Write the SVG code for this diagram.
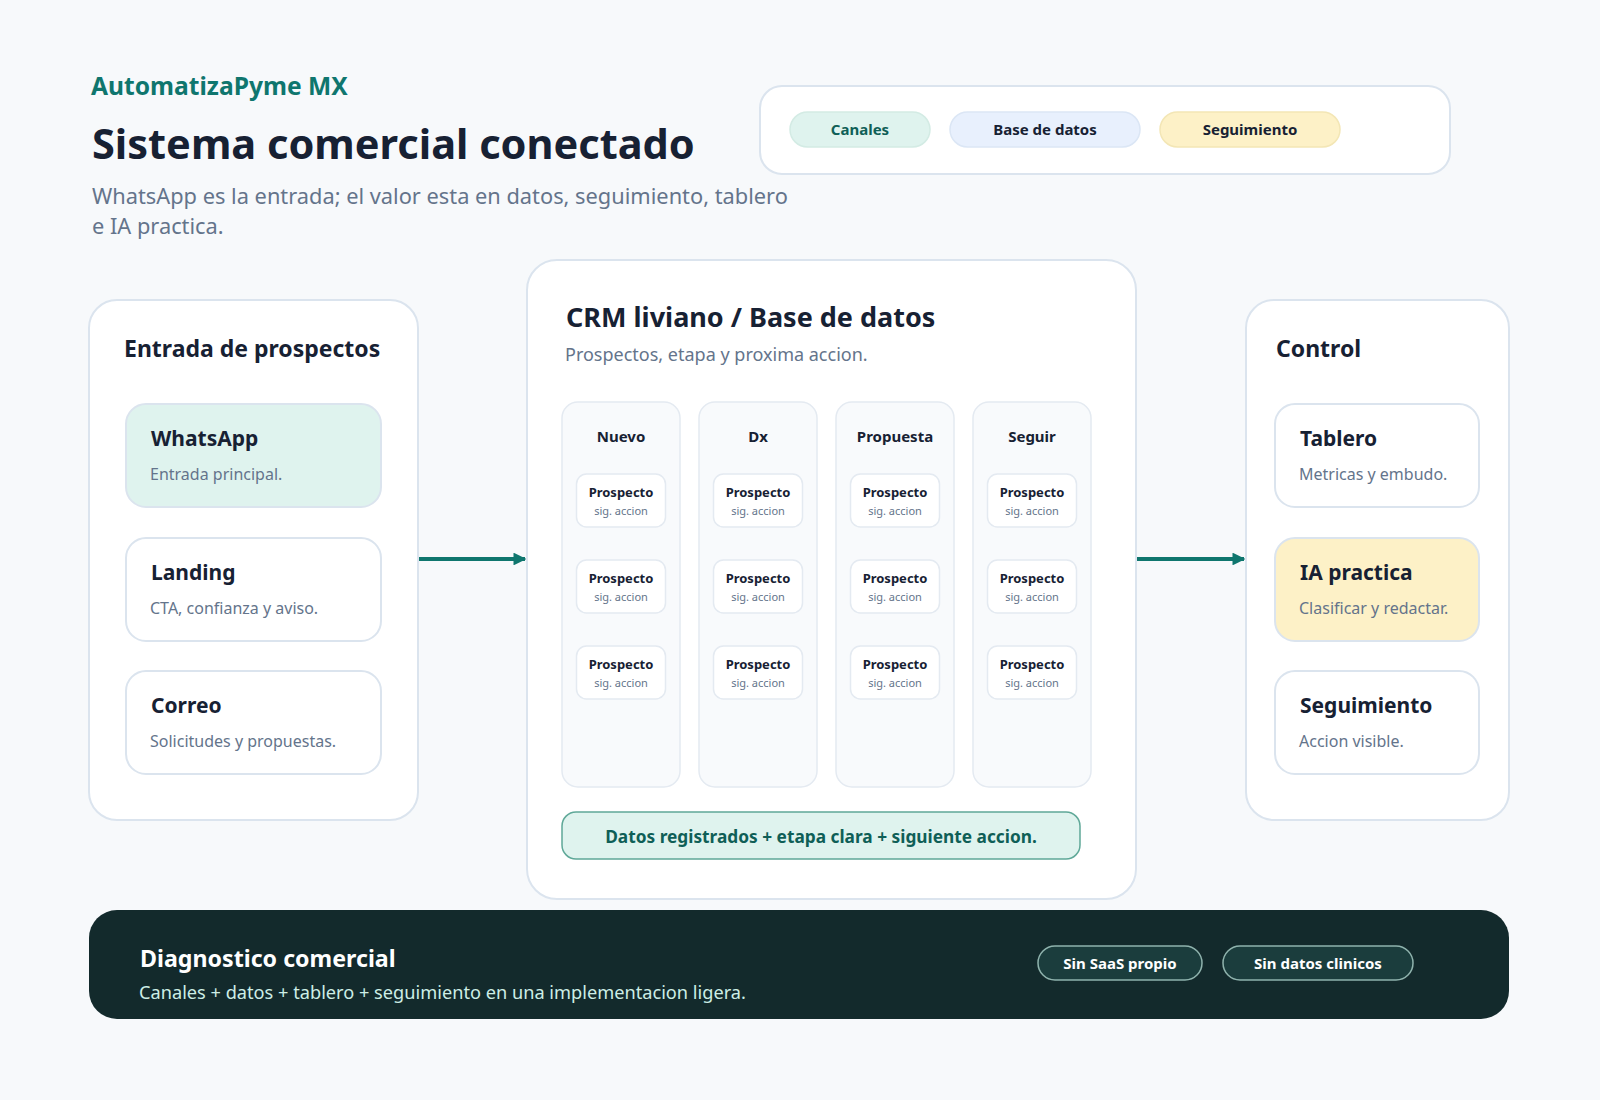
<svg xmlns="http://www.w3.org/2000/svg" width="1600" height="1100" viewBox="0 0 1600 1100">
<defs>
<style>
text{font-family:"Noto Sans","Open Sans","DejaVu Sans",sans-serif;}
.bg{fill:#f7f9fb;}
.panel{fill:#ffffff;stroke:#dbe4ee;stroke-width:2;}
.card{fill:#ffffff;stroke:#dbe4ee;stroke-width:2;}
.green{fill:#dff3ee;}
.yellow{fill:#fdf1c7;}
.blue{fill:#e8f0fd;}
.col{fill:#f8fafc;stroke:#e4eaf1;stroke-width:1.5;}
.mini{fill:#ffffff;stroke:#e4eaf1;stroke-width:1.5;}
.h{font-weight:700;fill:#172133;}
.sub{fill:#64748b;}
.ct{font-size:21px;font-weight:700;fill:#172133;}
.cs{font-size:16px;fill:#64748b;}
.colh{font-size:15px;font-weight:700;fill:#172133;text-anchor:middle;}
.mt{font-size:13px;font-weight:700;fill:#172133;text-anchor:middle;}
.ms{font-size:11px;fill:#64748b;text-anchor:middle;}
.pill{font-size:15px;font-weight:700;text-anchor:middle;}
.conn{stroke:#0f766e;stroke-width:4;fill:none;}
</style>
<marker id="arr" viewBox="0 0 10 10" refX="9" refY="5" markerWidth="3.2" markerHeight="3.2" orient="auto">
<path d="M0,0 L10,5 L0,10 z" fill="#0f766e"/>
</marker>
</defs>
<rect class="bg" x="0" y="0" width="1600" height="1100"/>

<g id="header">
<text x="91" y="95" font-size="24.6" font-weight="700" fill="#0f766e">AutomatizaPyme MX</text>
<text x="92" y="159" font-size="41.5" font-weight="700" fill="#172133">Sistema comercial conectado</text>
<text x="92" y="204" font-size="21.8" fill="#64748b">WhatsApp es la entrada; el valor esta en datos, seguimiento, tablero</text>
<text x="92" y="234" font-size="21.8" fill="#64748b">e IA practica.</text>
</g>

<g id="legend">
<rect class="panel" x="760" y="86" width="690" height="88" rx="22"/>
<rect class="green" x="790" y="112" width="140" height="35" rx="17.5" stroke="#d3ebe4" stroke-width="1.5"/>
<text class="pill" x="860" y="135" fill="#0f5f57">Canales</text>
<rect class="blue" x="950" y="112" width="190" height="35" rx="17.5" stroke="#dbe6f5" stroke-width="1.5"/>
<text class="pill" x="1045" y="135" fill="#172133">Base de datos</text>
<rect class="yellow" x="1160" y="112" width="180" height="35" rx="17.5" stroke="#f3e6b5" stroke-width="1.5"/>
<text class="pill" x="1250" y="135" fill="#172133">Seguimiento</text>
</g>

<g id="entrada">
<rect class="panel" x="89" y="300" width="329" height="520" rx="28"/>
<text class="h" x="124" y="357" font-size="23">Entrada de prospectos</text>
</g>
<g id="whatsapp">
<rect class="card green" x="126" y="404" width="255" height="103" rx="20"/>
<text class="ct" x="151" y="446">WhatsApp</text>
<text class="cs" x="150" y="480">Entrada principal.</text>
</g>
<g id="landing">
<rect class="card" x="126" y="538" width="255" height="103" rx="20"/>
<text class="ct" x="151" y="580">Landing</text>
<text class="cs" x="150" y="614">CTA, confianza y aviso.</text>
</g>
<g id="correo">
<rect class="card" x="126" y="671" width="255" height="103" rx="20"/>
<text class="ct" x="151" y="713">Correo</text>
<text class="cs" x="150" y="747">Solicitudes y propuestas.</text>
</g>

<g id="crm">
<rect class="panel" x="527" y="260" width="609" height="639" rx="30"/>
<text class="h" x="566" y="327" font-size="27">CRM liviano / Base de datos</text>
<text class="sub" x="565" y="361" font-size="18">Prospectos, etapa y proxima accion.</text>
</g>

<g id="col-nuevo">
<rect class="col" x="562" y="402" width="118" height="385" rx="16"/>
<text class="colh" x="621" y="442">Nuevo</text>
<rect class="mini" x="576.5" y="474" width="89" height="53" rx="10"/><text class="mt" x="621" y="497">Prospecto</text><text class="ms" x="621" y="515">sig. accion</text>
<rect class="mini" x="576.5" y="560" width="89" height="53" rx="10"/><text class="mt" x="621" y="583">Prospecto</text><text class="ms" x="621" y="601">sig. accion</text>
<rect class="mini" x="576.5" y="646" width="89" height="53" rx="10"/><text class="mt" x="621" y="669">Prospecto</text><text class="ms" x="621" y="687">sig. accion</text>
</g>
<g id="col-dx">
<rect class="col" x="699" y="402" width="118" height="385" rx="16"/>
<text class="colh" x="758" y="442">Dx</text>
<rect class="mini" x="713.5" y="474" width="89" height="53" rx="10"/><text class="mt" x="758" y="497">Prospecto</text><text class="ms" x="758" y="515">sig. accion</text>
<rect class="mini" x="713.5" y="560" width="89" height="53" rx="10"/><text class="mt" x="758" y="583">Prospecto</text><text class="ms" x="758" y="601">sig. accion</text>
<rect class="mini" x="713.5" y="646" width="89" height="53" rx="10"/><text class="mt" x="758" y="669">Prospecto</text><text class="ms" x="758" y="687">sig. accion</text>
</g>
<g id="col-propuesta">
<rect class="col" x="836" y="402" width="118" height="385" rx="16"/>
<text class="colh" x="895" y="442">Propuesta</text>
<rect class="mini" x="850.5" y="474" width="89" height="53" rx="10"/><text class="mt" x="895" y="497">Prospecto</text><text class="ms" x="895" y="515">sig. accion</text>
<rect class="mini" x="850.5" y="560" width="89" height="53" rx="10"/><text class="mt" x="895" y="583">Prospecto</text><text class="ms" x="895" y="601">sig. accion</text>
<rect class="mini" x="850.5" y="646" width="89" height="53" rx="10"/><text class="mt" x="895" y="669">Prospecto</text><text class="ms" x="895" y="687">sig. accion</text>
</g>
<g id="col-seguir">
<rect class="col" x="973" y="402" width="118" height="385" rx="16"/>
<text class="colh" x="1032" y="442">Seguir</text>
<rect class="mini" x="987.5" y="474" width="89" height="53" rx="10"/><text class="mt" x="1032" y="497">Prospecto</text><text class="ms" x="1032" y="515">sig. accion</text>
<rect class="mini" x="987.5" y="560" width="89" height="53" rx="10"/><text class="mt" x="1032" y="583">Prospecto</text><text class="ms" x="1032" y="601">sig. accion</text>
<rect class="mini" x="987.5" y="646" width="89" height="53" rx="10"/><text class="mt" x="1032" y="669">Prospecto</text><text class="ms" x="1032" y="687">sig. accion</text>
</g>
<g id="crm-note">
<rect x="562" y="812" width="518" height="47" rx="14" fill="#dff3ee" stroke="#5fa898" stroke-width="1.5"/>
<text x="821" y="843" font-size="17.3" font-weight="700" fill="#0f5f57" text-anchor="middle">Datos registrados + etapa clara + siguiente accion.</text>
</g>

<g id="control">
<rect class="panel" x="1246" y="300" width="263" height="520" rx="28"/>
<text class="h" x="1276" y="357" font-size="23">Control</text>
</g>
<g id="tablero">
<rect class="card" x="1275" y="404" width="204" height="103" rx="20"/>
<text class="ct" x="1300" y="446">Tablero</text>
<text class="cs" x="1299" y="480">Metricas y embudo.</text>
</g>
<g id="ia">
<rect class="card yellow" x="1275" y="538" width="204" height="103" rx="20"/>
<text class="ct" x="1300" y="580">IA practica</text>
<text class="cs" x="1299" y="614">Clasificar y redactar.</text>
</g>
<g id="seguimiento">
<rect class="card" x="1275" y="671" width="204" height="103" rx="20"/>
<text class="ct" x="1300" y="713">Seguimiento</text>
<text class="cs" x="1299" y="747">Accion visible.</text>
</g>

<g id="connectors">
<line class="conn" x1="419" y1="559" x2="525" y2="559" marker-end="url(#arr)"/>
<line class="conn" x1="1137" y1="559" x2="1244" y2="559" marker-end="url(#arr)"/>
</g>

<g id="footer">
<rect x="89" y="910" width="1420" height="109" rx="28" fill="#132a2c"/>
<text x="140" y="967" font-size="23.2" font-weight="700" fill="#ffffff">Diagnostico comercial</text>
<text x="139" y="999" font-size="18.2" fill="#cdeee6">Canales + datos + tablero + seguimiento en una implementacion ligera.</text>
<rect x="1038" y="946" width="164" height="34" rx="17" fill="#1b3d3d" stroke="#8fb3ad" stroke-width="1.5"/>
<text class="pill" x="1120" y="969" fill="#ffffff">Sin SaaS propio</text>
<rect x="1223" y="946" width="190" height="34" rx="17" fill="#1b3d3d" stroke="#8fb3ad" stroke-width="1.5"/>
<text class="pill" x="1318" y="969" fill="#ffffff">Sin datos clinicos</text>
</g>
</svg>
